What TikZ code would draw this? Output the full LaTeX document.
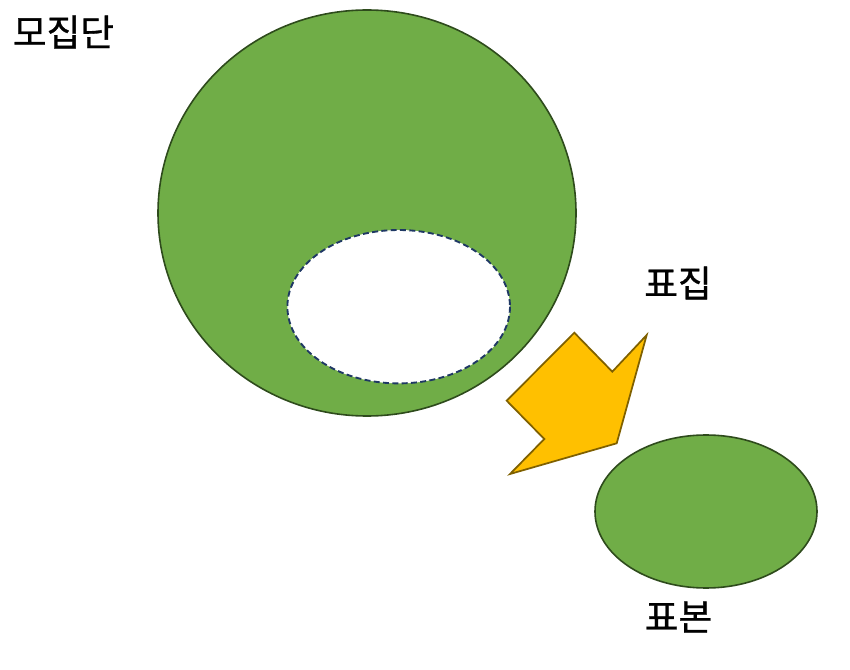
\documentclass[tikz,border=0pt]{standalone}
\usepackage{fontspec}
\newfontfamily\krfont[FakeBold=0.8]{Noto Sans CJK KR}
\definecolor{gfill}{HTML}{70AD47}
\definecolor{gline}{HTML}{2E4B1C}
\definecolor{afill}{HTML}{FFC000}
\definecolor{aline}{HTML}{7F6000}
\definecolor{dline}{HTML}{1F3864}
\tikzset{
  greenshape/.style={fill=gfill, draw=gline, line width=1.2pt},
  sampleshape/.style={fill=white, draw=dline, line width=1.4pt, dash pattern=on 4.5pt off 2.5pt},
  arrowshape/.style={fill=afill, draw=aline, line width=1.3pt, line join=miter},
  label/.style={font=\krfont\fontsize{27.5}{32}\selectfont, inner sep=0pt}
}
\begin{document}
\begin{tikzpicture}[x=0.75pt, y=-0.75pt]
\useasboundingbox (0,0) rectangle (850,670);
\path[greenshape] (367,213) ellipse [x radius=209, y radius=203];
\path[sampleshape] (398.7,306.7) ellipse [x radius=111.3, y radius=76.7];
\path[greenshape] (706,511.5) ellipse [x radius=111, y radius=76.5];
\path[arrowshape] (574.3,332.7) -- (612.3,371.7) -- (646.7,335) -- (616.7,443.3) -- (510,474) -- (544.3,439) -- (506.7,400.7) -- cycle;
\node[label] (pop) at (63.5,32) {모집단};
\node[label] (samp) at (678,283) {표집};
\node[label] (smp) at (678.5,617) {표본};
\end{tikzpicture}
\end{document}
